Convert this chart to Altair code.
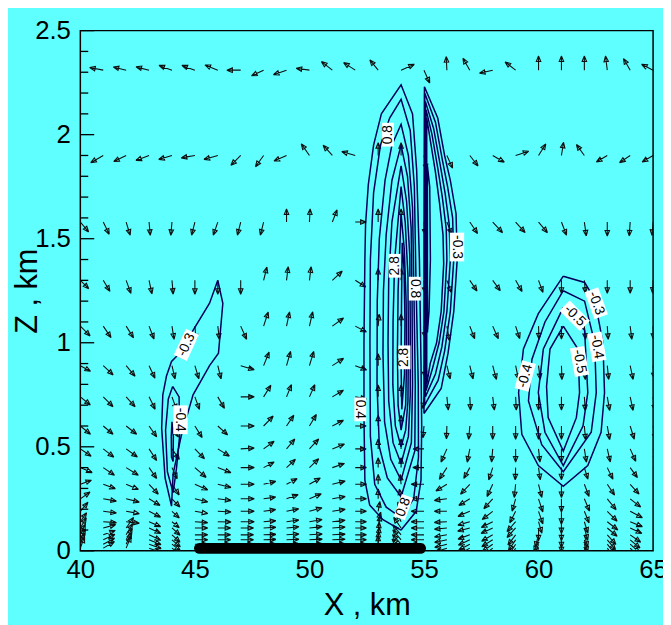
import math
import altair as alt
import pandas as pd

# ---------------- data ----------------
X_COLUMNS = list(range(40, 66))  # vector grid columns, km
ROW_Z = [2.31, 1.90, 1.58, 1.30, 1.08, 0.89, 0.74, 0.60, 0.49, 0.40,
         0.32, 0.25, 0.19, 0.14, 0.11, 0.077, 0.053, 0.032, 0.013]

# wind direction (deg, 0 = +x, 90 = +z) and magnitude for each grid column, row by row
ANG_R01 = [169, 169, 166, 166, 160, 160, 158, 180, 205, 199, 172, 142, 147, 129, 24, 294, 93, 120, 193, 142, 90, 90, 90, 97, 120, 153]
ANG_R02 = [210, 210, 206, 201, 197, 190, 196, 225, 234, 204, 125, 132, 164, 90, 90, 280, 294, 308, 330, 18, 58, 81, 126, 211, 214, 211]
ANG_R03 = [310, 296, 287, 275, 265, 256, 251, 256, 256, 90, 87, 69, 0, 90, 90, 275, 292, 304, 313, 312, 310, 291, 278, 270, 266, 265]
ANG_R04 = [315, 301, 290, 282, 275, 270, 270, 270, 76, 83, 83, 43, 328, 90, 90, 275, 290, 304, 306, 300, 290, 270, 275, 270, 270, 268]
ANG_R05 = [315, 304, 302, 291, 279, 275, 277, 294, 72, 78, 77, 36, 332, 85, 90, 275, 280, 291, 294, 288, 272, 270, 275, 274, 277, 272]
ANG_R06 = [331, 317, 310, 295, 283, 287, 284, 343, 68, 74, 73, 33, 339, 90, 90, 275, 284, 284, 285, 282, 277, 272, 274, 276, 282, 275]
ANG_R07 = [321, 315, 312, 296, 290, 290, 300, 0, 58, 68, 66, 31, 350, 90, 90, 265, 276, 273, 277, 273, 270, 270, 274, 280, 282, 278]
ANG_R08 = [321, 320, 322, 305, 300, 302, 318, 0, 46, 56, 59, 27, 0, 90, 90, 265, 268, 265, 270, 270, 270, 270, 275, 280, 287, 281]
ANG_R09 = [326, 322, 324, 303, 305, 314, 328, 4, 36, 50, 47, 22, 0, 90, 90, 180, 246, 259, 265, 270, 276, 270, 279, 283, 294, 289]
ANG_R10 = [337, 326, 328, 305, 295, 319, 339, 0, 28, 43, 44, 19, 0, 90, 90, 180, 237, 241, 252, 268, 278, 270, 287, 296, 306, 300]
ANG_R11 = [20, 340, 337, 313, 304, 336, 346, 0, 14, 28, 30, 14, 0, 90, 95, 180, 211, 227, 245, 264, 284, 270, 291, 304, 312, 306]
ANG_R12 = [35, 350, 346, 329, 314, 346, 353, 0, 8, 20, 23, 10, 0, 90, 100, 180, 187, 211, 228, 254, 288, 270, 293, 309, 322, 320]
ANG_R13 = [50, 353, 350, 333, 318, 350, 357, 0, 8, 12, 16, 9, 0, 80, 110, 180, 180, 203, 218, 243, 289, 270, 292, 315, 332, 330]
ANG_R14 = [55, 356, 353, 337, 321, 356, 359, 0, 5, 8, 10, 6, 0, 75, 115, 180, 183, 196, 207, 229, 286, 270, 287, 322, 338, 340]
ANG_R15 = [60, 15, 55, 335, 318, 0, 0, 0, 3, 5, 6, 4, 0, 80, 125, 180, 186, 195, 205, 228, 270, 270, 285, 320, 335, 335]
ANG_R16 = [65, 20, 60, 335, 318, 0, 0, 0, 2, 4, 4, 3, 0, 85, 130, 180, 190, 200, 210, 233, 255, 270, 285, 312, 325, 330]
ANG_R17 = [65, 25, 62, 338, 320, 0, 0, 0, 2, 3, 3, 2, 0, 85, 130, 180, 192, 205, 212, 236, 250, 270, 285, 310, 320, 325]
ANG_R18 = [70, 28, 65, 340, 322, 0, 0, 0, 1, 2, 2, 1, 0, 88, 132, 180, 195, 208, 215, 238, 250, 270, 285, 308, 318, 322]
ANG_R19 = [70, 30, 68, 340, 325, 0, 0, 0, 0, 1, 1, 0, 0, 90, 135, 180, 198, 210, 218, 240, 250, 270, 285, 306, 316, 320]

MAG_R01 = [14, 14, 13.5, 13.6, 14, 14, 14, 14, 13.5, 14, 13.5, 14, 14, 13.3, 14.6, 14.2, 13.7, 13.9, 13.7, 13.5, 14.3, 14.3, 14.3, 14.4, 13.5, 13]
MAG_R02 = [14, 14.6, 14, 14.2, 14, 14, 14.5, 14, 14, 13.9, 14.3, 13.9, 14.2, 13, 13, 15, 14, 13.5, 13.5, 14, 13.8, 13.5, 13.6, 12.9, 12.9, 12.9]
MAG_R03 = [13, 13.7, 13.9, 13.4, 13.4, 13.7, 14, 13.7, 13.7, 13.3, 13.3, 13.2, 11, 13.3, 13.3, 13, 13.3, 14, 14.6, 14.3, 14, 14.2, 14.1, 14, 14, 13.5]
MAG_R04 = [12, 13, 14, 14, 14, 14, 14, 14, 13.7, 13.8, 13.8, 13.7, 12.6, 12, 12, 13, 13, 13, 13, 13, 13, 13, 13, 13, 13, 13]
MAG_R05 = [14, 14, 14, 14, 13.5, 14, 13.5, 14.6, 15, 14.6, 14.7, 14, 12.8, 12, 12, 12, 15, 13.6, 13.9, 13.3, 13, 13, 13.4, 13.4, 13.4, 13.3]
MAG_R06 = [11.8, 13.7, 14, 14, 13.7, 13.9, 13.7, 14.3, 14.8, 14.9, 15, 13.5, 12.4, 12, 12, 12, 13.7, 13.7, 14.5, 14.3, 14, 14, 14, 14, 14.3, 13]
MAG_R07 = [13, 14, 13.5, 14, 14, 13.5, 13.4, 13.7, 13.8, 13.3, 13.4, 13.1, 11.5, 12, 12, 12, 13.4, 13.4, 13.4, 13.4, 13.4, 13.4, 14, 14, 14, 14]
MAG_R08 = [13.2, 13, 13.5, 13.4, 13, 13.8, 13.4, 13.7, 13.9, 13.2, 13.6, 12.6, 11, 11, 11, 12, 13, 13.4, 13.4, 13.4, 13.4, 13.4, 14, 14, 14, 14]
MAG_R09 = [13.2, 13.5, 14, 14, 13, 13.9, 13.8, 13.7, 13.2, 13, 13.7, 13.3, 11, 10, 10, 11, 14.6, 13.6, 13.4, 13.4, 13.4, 13.4, 13.6, 13.6, 13.8, 13.3]
MAG_R10 = [13, 13.7, 14.5, 13.4, 12.5, 15, 14.2, 13.7, 12.1, 12.3, 13, 13, 11.3, 10, 10, 11.3, 14, 12.5, 13, 12.3, 12.4, 12.3, 12.2, 13, 12.4, 11]
MAG_R11 = [12, 13, 13.4, 13.7, 13, 14.2, 13.7, 13.7, 12.7, 12.1, 12.7, 13.4, 11.3, 10, 10, 13, 12.9, 13.7, 13.6, 13.4, 13.7, 13.4, 13.2, 13.2, 13.4, 10]
MAG_R12 = [12, 13.5, 13.7, 12.9, 11.5, 13.4, 13.4, 13.7, 12.4, 12.5, 13, 13.2, 11.3, 10, 10, 13, 12.8, 12.9, 13.4, 12.9, 14, 13.4, 13.4, 14.2, 13.5, 8]
MAG_R13 = [12, 13.4, 13.5, 13, 10, 13.2, 13.4, 13.7, 12.4, 12.6, 13.2, 13.2, 11.3, 10, 10, 13, 12.7, 13, 13.5, 13.1, 13.4, 13, 12.6, 14.1, 14, 8]
MAG_R14 = [11, 13.4, 13.4, 12.7, 9.5, 13, 13.4, 13.7, 12.4, 12.6, 13, 13, 11.3, 10, 10, 13, 12.7, 12.5, 13, 13.3, 12.1, 12, 12.2, 13.5, 13.3, 8]
MAG_R15 = [12, 13, 13, 13, 11, 13, 13, 13, 12.4, 12.6, 13, 13, 11.3, 13, 13, 13, 12.7, 12.7, 13, 13, 13, 13, 13, 13, 13, 8]
MAG_R16 = MAG_R15
MAG_R17 = MAG_R15
MAG_R18 = MAG_R15
MAG_R19 = MAG_R15

ANGLES = [ANG_R01, ANG_R02, ANG_R03, ANG_R04, ANG_R05, ANG_R06, ANG_R07, ANG_R08, ANG_R09, ANG_R10,
          ANG_R11, ANG_R12, ANG_R13, ANG_R14, ANG_R15, ANG_R16, ANG_R17, ANG_R18, ANG_R19]
MAGS = [MAG_R01, MAG_R02, MAG_R03, MAG_R04, MAG_R05, MAG_R06, MAG_R07, MAG_R08, MAG_R09, MAG_R10,
        MAG_R11, MAG_R12, MAG_R13, MAG_R14, MAG_R15, MAG_R16, MAG_R17, MAG_R18, MAG_R19]

# contour lines (x km, z km)
POS_04 = [(54.00, 0.10), (53.21, 0.15), (52.63, 0.22), (52.42, 0.34), (52.38, 0.65), (52.38, 1.00), (52.42, 1.40),
          (52.45, 1.57), (52.57, 1.76), (52.80, 1.95), (53.14, 2.10), (54.00, 2.24), (54.50, 2.10), (54.68, 1.83),
          (54.80, 1.40), (54.87, 0.90), (54.90, 0.60), (54.87, 0.34), (54.66, 0.19), (54.00, 0.10)]
POS_08 = [(54.00, 0.16), (53.35, 0.21), (52.85, 0.32), (52.66, 0.55), (52.64, 1.00), (52.66, 1.40), (52.80, 1.72),
          (53.10, 1.95), (53.50, 2.08), (54.00, 2.17), (54.40, 2.02), (54.58, 1.75), (54.65, 1.30), (54.75, 0.80),
          (54.76, 0.45), (54.55, 0.25), (54.00, 0.16)]
POS_12 = [(54.00, 0.26), (53.40, 0.35), (53.05, 0.50), (52.95, 0.80), (52.96, 1.20), (53.05, 1.50), (53.30, 1.78),
          (53.60, 1.95), (54.00, 2.05), (54.32, 1.90), (54.50, 1.65), (54.56, 1.25), (54.62, 0.80), (54.60, 0.48),
          (54.00, 0.26)]
POS_16 = [(54.00, 0.34), (53.55, 0.44), (53.28, 0.62), (53.21, 0.95), (53.23, 1.25), (53.35, 1.52), (53.60, 1.78),
          (54.00, 1.95), (54.28, 1.80), (54.44, 1.55), (54.48, 1.20), (54.50, 0.80), (54.45, 0.52), (54.00, 0.34)]
POS_20 = [(54.00, 0.42), (53.65, 0.52), (53.46, 0.72), (53.43, 1.00), (53.46, 1.30), (53.60, 1.58), (54.00, 1.85),
          (54.24, 1.68), (54.38, 1.42), (54.40, 1.10), (54.40, 0.75), (54.32, 0.55), (54.00, 0.42)]
POS_24 = [(54.00, 0.50), (53.75, 0.60), (53.64, 0.80), (53.65, 1.10), (53.72, 1.40), (54.00, 1.75), (54.18, 1.58),
          (54.30, 1.32), (54.32, 1.00), (54.30, 0.72), (54.20, 0.58), (54.00, 0.50)]
POS_28 = [(54.00, 0.58), (53.87, 0.70), (53.84, 0.95), (53.87, 1.25), (54.00, 1.62), (54.14, 1.45), (54.22, 1.20),
          (54.24, 0.92), (54.20, 0.70), (54.00, 0.58)]
POS_32 = [(54.03, 0.68), (54.00, 0.90), (54.02, 1.20), (54.05, 1.48), (54.13, 1.35), (54.17, 1.10), (54.15, 0.85),
          (54.03, 0.68)]

NEG_M1 = [(55.00, 0.66), (55.00, 1.50), (55.02, 2.23), (55.60, 2.08), (55.90, 1.90), (56.15, 1.78), (56.40, 1.62),
          (56.45, 1.40), (56.30, 1.15), (56.05, 0.95), (55.75, 0.78), (55.00, 0.66)]
NEG_M2 = [(55.03, 0.70), (55.03, 2.20), (55.50, 2.06), (55.80, 1.88), (56.03, 1.75), (56.25, 1.60), (56.30, 1.40),
          (56.15, 1.15), (55.90, 0.96), (55.62, 0.82), (55.03, 0.70)]
NEG_M3 = [(55.06, 0.74), (55.06, 2.16), (55.42, 2.03), (55.70, 1.86), (55.92, 1.72), (56.10, 1.57), (56.15, 1.40),
          (56.00, 1.15), (55.78, 0.98), (55.50, 0.85), (55.06, 0.74)]
NEG_M4 = [(55.09, 0.77), (55.09, 2.12), (55.35, 2.00), (55.60, 1.84), (55.80, 1.70), (55.97, 1.55), (56.00, 1.40),
          (55.87, 1.15), (55.66, 1.00), (55.38, 0.88), (55.09, 0.77)]
NEG_M5 = [(55.12, 0.80), (55.12, 2.08), (55.28, 1.97), (55.50, 1.82), (55.68, 1.67), (55.83, 1.52), (55.86, 1.38),
          (55.75, 1.15), (55.55, 1.00), (55.27, 0.90), (55.12, 0.80)]
NEG_M6 = [(55.15, 1.05), (55.15, 1.85), (55.25, 1.75), (55.28, 1.40), (55.22, 1.15), (55.15, 1.05)]

NEG_L1 = [(46.00, 1.30), (46.22, 1.19), (46.03, 0.95), (45.64, 0.89), (44.92, 0.75), (44.40, 0.55), (44.05, 0.37),
          (43.98, 0.215), (43.70, 0.35), (43.55, 0.59), (43.60, 0.75), (43.76, 0.84), (43.98, 0.91), (44.34, 0.95),
          (44.92, 1.06), (45.64, 1.19), (46.00, 1.30)]
NEG_L2 = [(44.03, 0.79), (44.31, 0.74), (44.34, 0.56), (44.20, 0.40), (44.05, 0.28), (43.80, 0.38), (43.72, 0.58),
          (43.84, 0.73), (44.03, 0.79)]
NEG_L3 = [(44.00, 0.62), (44.06, 0.55), (44.05, 0.43), (43.98, 0.45), (43.97, 0.55), (44.00, 0.62)]

NEG_R1 = [(61.08, 1.32), (62.01, 1.29), (62.45, 1.21), (62.81, 1.00), (62.88, 0.76), (62.73, 0.57), (62.15, 0.41),
          (61.08, 0.31), (59.99, 0.41), (59.27, 0.56), (59.13, 0.76), (59.34, 0.97), (59.99, 1.14), (61.08, 1.32)]
NEG_R2 = [(61.08, 1.25), (62.01, 1.20), (62.45, 1.00), (62.52, 0.76), (62.30, 0.57), (61.08, 0.38), (60.14, 0.51),
          (59.56, 0.72), (59.71, 0.92), (60.28, 1.10), (61.08, 1.25)]
NEG_R3 = [(61.08, 1.17), (62.01, 1.06), (62.15, 0.76), (61.94, 0.60), (61.08, 0.41), (60.28, 0.57), (59.99, 0.76),
          (60.21, 0.97), (61.08, 1.17)]
NEG_R4 = [(61.08, 1.08), (61.72, 0.97), (61.79, 0.76), (61.65, 0.64), (61.08, 0.48), (60.42, 0.64), (60.35, 0.79),
          (60.50, 0.97), (61.08, 1.08)]

CONTOURS = [POS_04, POS_08, POS_12, POS_16, POS_20, POS_24, POS_28, POS_32,
            NEG_M1, NEG_M2, NEG_M3, NEG_M4, NEG_M5, NEG_M6,
            NEG_L1, NEG_L2, NEG_L3, NEG_R1, NEG_R2, NEG_R3, NEG_R4]

LABEL_TEXT = ["-0.3", "-0.4", "0.8", "2.8", "0.8", "2.8", "0.4", "0.8", "-0.3",
              "-0.3", "-0.5", "-0.4", "-0.5", "-0.4"]
LABEL_X = [44.63, 44.37, 53.43, 53.72, 54.60, 54.15, 52.22, 54.10, 56.44,
           62.52, 61.58, 62.55, 61.79, 59.42]
LABEL_Z = [0.99, 0.63, 2.00, 1.37, 1.26, 0.93, 0.68, 0.21, 1.46,
           1.19, 1.13, 0.98, 0.91, 0.84]
LABEL_ANGLE = [295, 90, 270, 270, 90, 270, 90, 290, 90,
               70, 45, 80, 80, 285]

BAR_X = [45.2, 54.85]
BAR_Z = 0.012

X_TICKS = [40, 45, 50, 55, 60, 65]
Y_MAJOR = [0, 0.5, 1, 1.5, 2, 2.5]
Y_MINOR = [0.1, 0.2, 0.3, 0.4, 0.6, 0.7, 0.8, 0.9, 1.1, 1.2, 1.3, 1.4,
           1.6, 1.7, 1.8, 1.9, 2.1, 2.2, 2.3, 2.4]

# ---------------- layout / style ----------------
W, H = 578, 525
PXX = W / 25.0   # px per km in x
PXZ = H / 2.5    # px per km in z
HEAD = 6.0
HALF = math.radians(22)
FONT = "Liberation Sans"
BG = "#5fffff"
LINE = "#00005a"

# arrows -> polylines (tail, head, barb, barb, head) drawn as a small closed head
arrow_rows = []
aid = 0
for z0, angs, mags in zip(ROW_Z, ANGLES, MAGS):
    for x0, a, m in zip(X_COLUMNS, angs, mags):
        t = math.radians(a)
        hx = x0 + m * math.cos(t) / PXX
        hz = z0 + m * math.sin(t) / PXZ
        b1 = t + math.pi - HALF
        b2 = t + math.pi + HALF
        pts = [(x0, z0), (hx, hz),
               (hx + HEAD * math.cos(b1) / PXX, hz + HEAD * math.sin(b1) / PXZ),
               (hx + HEAD * math.cos(b2) / PXX, hz + HEAD * math.sin(b2) / PXZ),
               (hx, hz)]
        for k, (px, pz) in enumerate(pts):
            arrow_rows.append({"aid": aid, "k": k, "x": px, "z": pz})
        aid += 1
arrows_df = pd.DataFrame(arrow_rows)

cont_rows = []
for cid, line in enumerate(CONTOURS):
    for k, (px, pz) in enumerate(line):
        cont_rows.append({"cid": cid, "k": k, "x": px, "z": pz})
cont_df = pd.DataFrame(cont_rows)

labels_df = pd.DataFrame({"x": LABEL_X, "z": LABEL_Z, "t": LABEL_TEXT, "ang": LABEL_ANGLE})
labels_df["bs"] = labels_df["t"].str.len().map({3: 576, 4: 841})

X = alt.X("x:Q", scale=alt.Scale(domain=[40, 65], nice=False, zero=False),
          axis=alt.Axis(values=X_TICKS, title="X , km", labelFontSize=26, titleFontSize=31,
                        labelFont=FONT, titleFont=FONT, labelColor="black", titleColor="black",
                        titleFontWeight="normal", labelPadding=6, ticks=False, domain=False,
                        grid=False, labelFlush=False, labelOverlap=False,
                        titleX=289, titleY=64.5, titleBaseline="alphabetic", titleAlign="center"))
Y = alt.Y("z:Q", scale=alt.Scale(domain=[0, 2.5], nice=False, zero=False),
          axis=alt.Axis(values=Y_MAJOR, format="~g", title="Z , km", labelFontSize=26, titleFontSize=31,
                        labelFont=FONT, titleFont=FONT, labelColor="black", titleColor="black",
                        titleFontWeight="normal", labelPadding=10, ticks=False, domain=False,
                        grid=False, labelFlush=False, labelOverlap=False,
                        titleAngle=270, titleX=-44, titleY=262.5, titleBaseline="alphabetic",
                        titleAlign="center"))

arrows = alt.Chart(arrows_df).mark_line(color="#101010", strokeWidth=1.1, clip=True,
                                        strokeJoin="miter").encode(
    x=X, y=Y, detail="aid:N", order="k:Q")

contours = alt.Chart(cont_df).mark_line(color=LINE, strokeWidth=1.5, clip=True).encode(
    x=X, y=Y, detail="cid:N", order="k:Q")

boxes = alt.Chart(labels_df).mark_point(
    shape="M-1,-0.5L1,-0.5L1,0.5L-1,0.5Z", filled=True, color="white", opacity=1, strokeWidth=0).encode(
    x=X, y=Y, angle=alt.Angle("ang:Q", scale=None), size=alt.Size("bs:Q", scale=None))

texts = alt.Chart(labels_df).mark_text(font=FONT, fontSize=14, color="black", align="center",
                                       baseline="middle").encode(
    x=X, y=Y, text="t:N", angle=alt.Angle("ang:Q", scale=None))

bar = alt.Chart(pd.DataFrame({"x": [BAR_X[0]], "x2": [BAR_X[1]], "z": [BAR_Z]})).mark_rule(
    color="black", strokeWidth=11, strokeCap="round").encode(x=X, x2=alt.X2("x2:Q"), y=Y)

ticks_major = alt.Chart(pd.DataFrame({"z": Y_MAJOR})).mark_rule(color="black", strokeWidth=1.3).encode(
    y=Y, x=alt.value(0), x2=alt.value(14))
ticks_minor = alt.Chart(pd.DataFrame({"z": Y_MINOR})).mark_rule(color="black", strokeWidth=1.3).encode(
    y=Y, x=alt.value(0), x2=alt.value(8))

chart = alt.layer(arrows, contours, boxes, texts, bar, ticks_major, ticks_minor).properties(
    width=W, height=H,
    padding={"left": 73, "top": 20, "right": 10, "bottom": 72},
    autosize=alt.AutoSizeParams(type="none"),
    background=BG,
).configure_view(stroke="black", strokeWidth=1.5)

chart.save("out.html", embed_options={"renderer": "svg", "actions": False})
